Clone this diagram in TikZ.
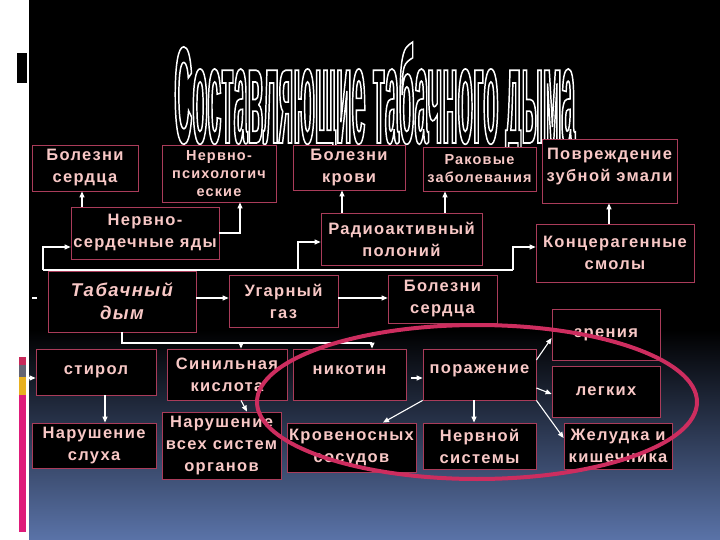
\documentclass[tikz,border=0pt]{standalone}
\usepackage{fontspec}
\setmainfont{Liberation Sans}
\newfontfamily\bxfont[LetterSpace=8]{Liberation Sans}
\newfontfamily\ttlfont[FakeStretch=0.2]{Liberation Sans}
\usetikzlibrary{arrows.meta,calc}
\definecolor{txtc}{RGB}{248,200,198}
\definecolor{edgec}{RGB}{170,60,90}
\definecolor{elc}{RGB}{205,45,95}
\definecolor{bgb}{RGB}{90,115,168}
\definecolor{barm}{RGB}{222,28,122}
\definecolor{barp}{RGB}{200,40,90}
\definecolor{barg}{RGB}{100,100,115}
\definecolor{bary}{RGB}{232,176,32}
\newcommand{\ttltext}{\resizebox{401pt}{101pt}{\ttlfont\bfseries\fontsize{137}{137}\selectfont\special{pdf:literal direct 1 Tr 1.6 w}Составляющие табачного дыма\special{pdf:literal direct 0 Tr}}}
\tikzset{
  bx/.style={draw=edgec, line width=0.8pt, fill=black, inner sep=0pt, align=center, text=txtc,
    font={\bxfont\bfseries\fontsize{16.5}{22}\selectfont}},
  sm/.style={font={\bxfont\bfseries\fontsize{14.5}{18}\selectfont}},
  it/.style={font={\bxfont\bfseries\itshape\fontsize{18.5}{23}\selectfont}},
  ttl/.style={anchor=base west, inner sep=0pt},
  ln/.style={draw=white, line width=1.1pt},
  arr/.style={ln, -{Triangle[length=6pt,width=5pt]}},
  elp/.style={draw=elc, line width=4pt},
}
\begin{document}
\begin{tikzpicture}[x=1pt,y=-1pt]
\useasboundingbox (0,0) rectangle (720,540);
% background
\fill[white] (0,0) rectangle (720,540);
\fill[black] (29,0) rectangle (720,330);
\shade[top color=black, bottom color=bgb] (29,330) rectangle (720,540);
\fill[black] (17,53) rectangle (27,83);
\fill[barm] (19,357) rectangle (26,532);
\fill[barp] (19,357) rectangle (26,365);
\fill[barg] (19,365) rectangle (26,377);
\fill[bary] (19,377) rectangle (26,395);
% title (outlined)
\node[ttl, text=white] (tc) at (174,143) {\ttltext};
% row 1
\node[bx, minimum width=106pt, minimum height=46pt] (bs1) at (85,168) {Болезни\\сердца};
\node[bx, sm, minimum width=114pt, minimum height=57pt] (np) at (219,173.5) {Нервно-\\психологич\\еские};
\node[bx, minimum width=112pt, minimum height=45pt] (bk) at (349,167.5) {Болезни\\крови};
\node[bx, sm, minimum width=113pt, minimum height=44pt] (rz) at (479.5,169) {Раковые\\заболевания};
\node[bx, minimum width=135pt, minimum height=64pt] (pz) at (609.5,171) {Повреждение\\зубной эмали\\[-10pt]};
% row 2
\node[bx, minimum width=148pt, minimum height=52pt] (nsy) at (145,233) {Нервно-\\сердечные яды};
\node[bx, minimum width=161pt, minimum height=52pt] (rp) at (401.5,239) {Радиоактивный\\полоний};
\node[bx, minimum width=158pt, minimum height=58pt] (ks) at (615,253) {Концерагенные\\смолы};
% row 3
\node[bx, it, minimum width=148pt, minimum height=61pt] (td) at (122,301.5) {Табачный\\дым};
\node[bx, minimum width=109pt, minimum height=52pt] (ug) at (283.5,301) {Угарный\\газ};
\node[bx, minimum width=109pt, minimum height=48pt] (bs2) at (442.5,299) {Болезни\\сердца};
\node[bx, minimum width=108pt, minimum height=51pt] (zr) at (606,334.5) {зрения};
% row 4
\node[bx, minimum width=120pt, minimum height=46pt] (st) at (96,372) {стирол};
\node[bx, minimum width=120pt, minimum height=51pt] (sk) at (227,374.5) {Синильная\\кислота};
\node[bx, minimum width=113pt, minimum height=51pt] (nk) at (349.5,374.5) {\raisebox{8pt}{никотин}};
\node[bx, minimum width=113pt, minimum height=51pt] (pr) at (479.5,374.5) {\raisebox{10pt}{поражение}};
\node[bx, minimum width=108pt, minimum height=51pt] (lg) at (606,391.5) {легких};
% row 5
\node[bx, minimum width=124pt, minimum height=45pt] (ns) at (94,445.5) {Нарушение\\слуха};
\node[bx, minimum width=119pt, minimum height=67pt] (nv) at (221.5,445.5) {Нарушение\\всех систем\\органов};
\node[bx, minimum width=129pt, minimum height=49pt] (kr) at (351.5,447.5) {Кровеносных\\сосудов};
\node[bx, minimum width=113pt, minimum height=46pt] (nsys) at (479.5,446) {Нервной\\системы};
\node[bx, minimum width=108pt, minimum height=46pt] (zh) at (618,446) {Желудка и\\кишечника};
% helper coordinates
\coordinate (xA) at (82,0);
\coordinate (xC) at (240,0);
\coordinate (xD) at (342,0);
\coordinate (xE) at (445,0);
\coordinate (xF) at (609,0);
\coordinate (xH) at (105,0);
\coordinate (xI) at (247,0);
\coordinate (xJ) at (474,0);
\coordinate (xK) at (383,0);
\coordinate (y247) at (0,247);
\coordinate (y242) at (0,242);
\coordinate (y298) at (0,298);
\coordinate (y378) at (0,378);
\coordinate (y360) at (0,360);
\coordinate (y338) at (0,338);
\coordinate (y388) at (0,388);
\coordinate (y394) at (0,394);
\coordinate (y438) at (0,438);
\coordinate (b1) at (43,270);
\coordinate (b2) at (298,270);
\coordinate (b3) at (513,270);
\coordinate (b5) at (372,343);
\coordinate (xG) at (241,343);
\coordinate (stl) at (28,378);
\coordinate (d1) at (32,298);
% connectors
\draw[arr] (nsy.north -| xA) -- (bs1.south -| xA);
\draw[arr] (nsy.east) -| (np.south -| xC);
\draw[arr] (rp.north -| xD) -- (bk.south -| xD);
\draw[arr] (rp.north -| xE) -- (rz.south -| xE);
\draw[arr] (ks.north -| xF) -- (pz.south -| xF);
\draw[ln] (b1) -- (b3);
\draw[arr] (b1) |- (nsy.west |- y247);
\draw[arr] (b2) |- (rp.west |- y242);
\draw[arr] (b3) |- (ks.west |- y247);
\draw[ln] (d1) -- ++(5,0);
\draw[arr] (stl) -- (st.west |- stl);
\draw[arr] (td.east |- y298) -- (ug.west |- y298);
\draw[arr] (ug.east |- y298) -- (bs2.west |- y298);
\draw[ln] (td.south) |- (b5);
\draw[arr] (xG) -- (sk.north -| xG);
\draw[arr] (b5) -- (nk.north -| b5);
\draw[arr] (st.south -| xH) -- (ns.north -| xH);
\draw[arr] (sk.south -| xG) -- (nv.north -| xI);
\draw[arr, shorten <=5pt] (nk.east |- y378) -- (pr.west |- y378);
\draw[arr] (pr.east |- y360) -- (zr.west |- y338);
\draw[arr] (pr.east |- y388) -- (lg.west |- y394);
\draw[arr] (pr.south -| xJ) -- (nsys.north -| xJ);
\draw[arr] (pr.south east) -- (zh.west |- y438);
\draw[arr] (pr.south west) -- (kr.north -| xK);
% ellipse
\draw[elp] (477,402) ellipse [x radius=220, y radius=77];
\end{tikzpicture}
\end{document}
